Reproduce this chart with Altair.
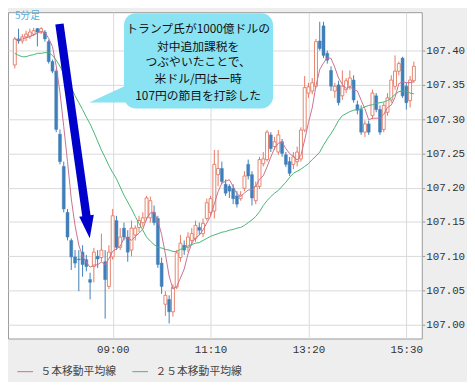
import altair as alt
import pandas as pd

# ---- data (USD/JPY 5-minute bars) ----
open_ = [107.379, 107.417, 107.414, 107.420, 107.421, 107.424, 107.432, 107.427, 107.427, 107.413,
         107.384, 107.370, 107.278, 107.231, 107.164, 107.123, 107.099, 107.096, 107.106, 107.095,
         107.066, 107.085, 107.100, 107.098, 107.092, 107.056, 107.099, 107.152, 107.113, 107.141,
         107.128, 107.109, 107.131, 107.142, 107.149, 107.156, 107.156, 107.164, 107.155, 107.090,
         107.030, 107.037, 107.019, 107.055, 107.098, 107.116, 107.113, 107.123, 107.126, 107.142,
         107.133, 107.155, 107.164, 107.166, 107.219, 107.228, 107.205, 107.202, 107.199, 107.188,
         107.184, 107.199, 107.234, 107.219, 107.181, 107.202, 107.235, 107.241, 107.277, 107.260,
         107.252, 107.267, 107.248, 107.238, 107.234, 107.238, 107.242, 107.284, 107.338, 107.341,
         107.348, 107.414, 107.436, 107.396, 107.371, 107.341, 107.350, 107.334, 107.343, 107.348,
         107.357, 107.321, 107.314, 107.281, 107.293, 107.305, 107.334, 107.314, 107.285, 107.310,
         107.328, 107.348, 107.370, 107.389, 107.348, 107.327, 107.356]
high = [107.420, 107.432, 107.424, 107.429, 107.432, 107.433, 107.433, 107.434, 107.430, 107.416,
        107.387, 107.373, 107.285, 107.238, 107.169, 107.126, 107.109, 107.109, 107.116, 107.102,
        107.076, 107.112, 107.109, 107.133, 107.109, 107.116, 107.169, 107.159, 107.141, 107.149,
        107.138, 107.152, 107.145, 107.159, 107.164, 107.188, 107.187, 107.174, 107.159, 107.098,
        107.049, 107.043, 107.059, 107.109, 107.131, 107.123, 107.135, 107.141, 107.152, 107.149,
        107.155, 107.184, 107.188, 107.255, 107.255, 107.238, 107.212, 107.205, 107.205, 107.195,
        107.195, 107.224, 107.241, 107.224, 107.209, 107.245, 107.252, 107.284, 107.281, 107.274,
        107.284, 107.271, 107.252, 107.245, 107.252, 107.260, 107.288, 107.363, 107.353, 107.360,
        107.417, 107.442, 107.442, 107.400, 107.377, 107.353, 107.356, 107.371, 107.360, 107.371,
        107.364, 107.327, 107.320, 107.298, 107.298, 107.343, 107.338, 107.320, 107.324, 107.338,
        107.364, 107.393, 107.384, 107.391, 107.353, 107.363, 107.384]
low = [107.374, 107.410, 107.410, 107.414, 107.417, 107.421, 107.406, 107.424, 107.413, 107.381,
       107.367, 107.281, 107.234, 107.164, 107.123, 107.080, 107.083, 107.049, 107.070, 107.078,
       107.037, 107.062, 107.083, 107.092, 107.009, 107.052, 107.095, 107.109, 107.109, 107.123,
       107.092, 107.100, 107.123, 107.135, 107.143, 107.152, 107.149, 107.145, 107.083, 107.045,
       107.013, 107.002, 107.012, 107.052, 107.092, 107.102, 107.106, 107.116, 107.121, 107.131,
       107.128, 107.152, 107.159, 107.155, 107.202, 107.205, 107.188, 107.185, 107.176, 107.171,
       107.181, 107.195, 107.212, 107.174, 107.176, 107.198, 107.231, 107.238, 107.252, 107.255,
       107.248, 107.245, 107.230, 107.217, 107.227, 107.231, 107.238, 107.281, 107.331, 107.336,
       107.346, 107.400, 107.389, 107.381, 107.341, 107.331, 107.320, 107.328, 107.338, 107.343,
       107.324, 107.307, 107.277, 107.274, 107.277, 107.300, 107.310, 107.277, 107.281, 107.305,
       107.324, 107.343, 107.364, 107.331, 107.314, 107.317, 107.353]
close = [107.417, 107.414, 107.420, 107.424, 107.427, 107.429, 107.427, 107.432, 107.417, 107.384,
         107.370, 107.285, 107.238, 107.169, 107.128, 107.099, 107.090, 107.095, 107.088, 107.085,
         107.062, 107.106, 107.096, 107.109, 107.066, 107.106, 107.159, 107.113, 107.128, 107.128,
         107.106, 107.141, 107.141, 107.152, 107.156, 107.185, 107.181, 107.149, 107.088, 107.056,
         107.043, 107.019, 107.055, 107.105, 107.119, 107.109, 107.128, 107.133, 107.145, 107.138,
         107.148, 107.178, 107.184, 107.234, 107.228, 107.209, 107.192, 107.195, 107.184, 107.176,
         107.189, 107.217, 107.217, 107.185, 107.202, 107.241, 107.242, 107.281, 107.257, 107.267,
         107.277, 107.250, 107.234, 107.221, 107.245, 107.252, 107.284, 107.346, 107.347, 107.353,
         107.413, 107.403, 107.393, 107.386, 107.348, 107.348, 107.324, 107.348, 107.356, 107.360,
         107.328, 107.313, 107.281, 107.293, 107.281, 107.338, 107.314, 107.281, 107.320, 107.331,
         107.357, 107.370, 107.381, 107.334, 107.324, 107.357, 107.377]
ma25 = [107.396, 107.393, 107.391, 107.391, 107.393, 107.394, 107.396, 107.396, 107.397, 107.397,
        107.393, 107.386, 107.377, 107.367, 107.357, 107.346, 107.334, 107.324, 107.314, 107.303,
        107.293, 107.281, 107.268, 107.255, 107.244, 107.232, 107.222, 107.213, 107.201, 107.189,
        107.179, 107.169, 107.158, 107.148, 107.138, 107.128, 107.122, 107.117, 107.113, 107.112,
        107.110, 107.109, 107.107, 107.107, 107.110, 107.112, 107.115, 107.117, 107.119, 107.120,
        107.123, 107.126, 107.129, 107.131, 107.133, 107.135, 107.136, 107.138, 107.139, 107.141,
        107.142, 107.145, 107.149, 107.153, 107.158, 107.165, 107.174, 107.181, 107.187, 107.192,
        107.196, 107.202, 107.208, 107.215, 107.221, 107.224, 107.227, 107.231, 107.235, 107.241,
        107.246, 107.252, 107.262, 107.271, 107.279, 107.288, 107.298, 107.305, 107.308, 107.311,
        107.313, 107.314, 107.315, 107.318, 107.320, 107.321, 107.323, 107.324, 107.325, 107.327,
        107.331, 107.336, 107.340, 107.341, 107.341, 107.338, 107.337]

series_names = ["５本移動平均線", "２５本移動平均線"]
y_ticks = [107.00, 107.05, 107.10, 107.15, 107.20, 107.25, 107.30, 107.35, 107.40]
x_tick_times = [(9, 0), (11, 10), (13, 20), (15, 30)]
note_lines = ["トランプ氏が1000億ドルの", "対中追加課税を", "つぶやいたことで、",
              "米ドル/円は一時", "107円の節目を打診した"]
note_prices = [107.4316, 107.4058, 107.3829, 107.3585, 107.3341]

RED = "#e5775f"
BLUE = "#3f7fba"
PINK = "#c9708f"
GREEN = "#46b574"
CYAN = "#8ae3f2"
NAVY = "#0000cc"
MONO = "Liberation Mono"
CJK = "Noto Sans CJK JP"
DAY = "2019-08-02"

times = pd.date_range(f"{DAY} 06:50", periods=len(close), freq="5min")
df = pd.DataFrame({"t": times, "open": open_, "high": high, "low": low,
                   "close": close, "ma25": ma25})
df["ma5"] = df["close"].rolling(5, min_periods=1).mean()
up = df[df["close"] >= df["open"]]
down = df[df["close"] < df["open"]]

ma = pd.concat([
    pd.DataFrame({"t": df["t"], "v": df["ma5"], "s": series_names[0]}),
    pd.DataFrame({"t": df["t"], "v": df["ma25"], "s": series_names[1]}),
])


def dt(h, m, s=0):
    return alt.DateTime(year=2019, month=8, date=2, hours=h, minutes=m, seconds=s)


xscale = alt.Scale(domain=[dt(6, 47, 30), dt(15, 44)])
yscale = alt.Scale(domain=[106.98, 107.456], nice=False, zero=False)
xaxis = alt.Axis(values=[dt(h, m) for h, m in x_tick_times], format="%H:%M", title=None,
                 grid=True, gridColor="#d9d9d9", ticks=False, domain=False,
                 labelFont=MONO, labelFontSize=11, labelColor="#333", labelPadding=5,
                 labelFlush=False)
yaxis = alt.Axis(orient="right", values=y_ticks, format=".2f", title=None,
                 grid=True, gridColor="#d9d9d9", domain=False, tickSize=3, tickColor="#999",
                 labelFont=MONO, labelFontSize=11, labelColor="#333", labelPadding=1)


def X(f):
    return alt.X(f, type="temporal", scale=xscale, axis=xaxis)


def Y(f):
    return alt.Y(f, type="quantitative", scale=yscale, axis=yaxis)


wick_up = alt.Chart(up).mark_rule(color=RED, strokeWidth=1).encode(x=X("t"), y=Y("low"), y2="high")
wick_dn = alt.Chart(down).mark_rule(color=BLUE, strokeWidth=1).encode(x=X("t"), y=Y("low"), y2="high")
body_up = alt.Chart(up).mark_bar(size=3, fill="white", stroke=RED, strokeWidth=0.9).encode(
    x=X("t"), y=Y("open"), y2="close")
body_dn = alt.Chart(down).mark_bar(size=3, fill=BLUE, stroke=BLUE, strokeWidth=0.5).encode(
    x=X("t"), y=Y("open"), y2="close")

lines = alt.Chart(ma).mark_line(strokeWidth=1).encode(
    x=X("t"), y=Y("v"),
    color=alt.Color("s:N", scale=alt.Scale(domain=series_names, range=[PINK, GREEN]),
                    legend=alt.Legend(orient="none", legendX=9, legendY=357, direction="horizontal",
                                      title=None, symbolType="stroke", symbolSize=256,
                                      symbolStrokeWidth=1, labelFont=CJK, labelFontSize=11,
                                      labelColor="#444", labelOffset=7, columnPadding=14)),
)

# callout bubble
bubble_df = pd.DataFrame({"t0": [pd.Timestamp(f"{DAY} 09:15")], "t1": [pd.Timestamp(f"{DAY} 12:33")],
                          "p0": [107.4546], "p1": [107.3155]})
bubble = alt.Chart(bubble_df).mark_rect(cornerRadius=12, color=CYAN).encode(
    x=X("t0"), x2="t1", y=Y("p0"), y2="p1")
tail_df = pd.DataFrame({"t": [pd.Timestamp(f"{DAY} 08:53:42")], "p": [107.337]})
tail = alt.Chart(tail_df).mark_point(
    shape="M-0.95,0.45L1.2,-0.55L1.2,0.45Z", size=1600, filled=True, opacity=1,
    color=CYAN, strokeWidth=0).encode(x=X("t"), y=Y("p"))
note_df = pd.DataFrame({"t": [pd.Timestamp(f"{DAY} 10:53:30")] * len(note_lines),
                        "p": note_prices, "txt": note_lines})
notes = alt.Chart(note_df).mark_text(font=CJK, fontSize=12, color="#111", align="center",
                                     baseline="middle").encode(x=X("t"), y=Y("p"), text="txt:N")

# blue arrow
shaft_df = pd.DataFrame({"t0": [pd.Timestamp(f"{DAY} 07:49:19")], "t1": [pd.Timestamp(f"{DAY} 08:25:14")],
                         "p0": [107.4388], "p1": [107.1578]})
shaft = alt.Chart(shaft_df).mark_rule(color=NAVY, strokeWidth=8.5).encode(
    x=X("t0"), x2="t1", y=Y("p0"), y2="p1")
head_df = pd.DataFrame({"t": [pd.Timestamp(f"{DAY} 08:27:25")], "p": [107.1427]})
head = alt.Chart(head_df).mark_point(
    shape="M-0.65,-1L0.65,-1L0,1Z", size=529, filled=True, opacity=1, color=NAVY,
    strokeWidth=0, angle=351.8).encode(x=X("t"), y=Y("p"))

tag = alt.Chart(pd.DataFrame({"lbl": ["5分足"]})).mark_text(
    font=CJK, fontSize=10, color="#4eb0e4", align="left", baseline="middle").encode(
    x=alt.value(7), y=alt.value(4), text="lbl:N")

chart = alt.layer(wick_up, wick_dn, body_up, body_dn, lines, tail, bubble, notes, shaft, head, tag).properties(
    width=421, height=332, background="#eeeeee",
    padding={"left": 0, "top": 0, "right": 2, "bottom": 2},
).configure_view(fill="white", stroke="#9a9a9a", strokeWidth=1)

chart.save("out.html", embed_options={"renderer": "svg", "actions": False})
